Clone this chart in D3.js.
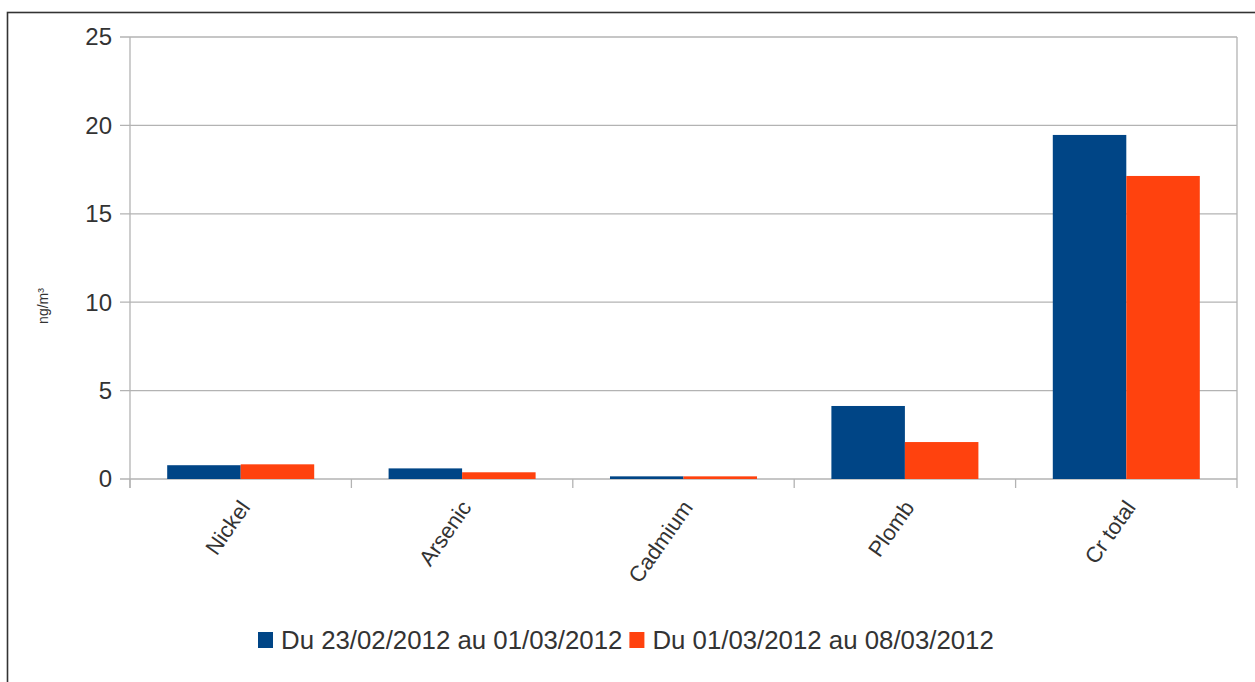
<!DOCTYPE html>
<html>
<head>
<meta charset="utf-8">
<script src="https://cdn.jsdelivr.net/npm/d3@7"></script>
<style>
  html, body { margin: 0; padding: 0; background: #fff; }
  svg { display: block; font-family: "Liberation Sans", Arial, sans-serif; }
</style>
</head>
<body>
<svg id="chart" width="1255" height="682"></svg>
<script>
// Metal concentrations (ng/m³) for two sampling weeks
const categories = ["Nickel", "Arsenic", "Cadmium", "Plomb", "Cr total"];
const seriesNames = ["Du 23/02/2012 au 01/03/2012", "Du 01/03/2012 au 08/03/2012"];
const week1 = [0.78, 0.6, 0.15, 4.13, 19.46];
const week2 = [0.83, 0.38, 0.15, 2.09, 17.14];
const yTicks = [0, 5, 10, 15, 20, 25];
const colors = ["#004586", "#ff420e"];

const svg = d3.select("#chart");
const plot = { left: 130, right: 1237, top: 37, bottom: 479 };

// outer frame
svg.append("rect")
  .attr("x", 7.5).attr("y", 12.5)
  .attr("width", 1270).attr("height", 700)
  .attr("fill", "none").attr("stroke", "#333").attr("stroke-width", 1.6);

const x = d3.scaleBand().domain(categories).range([plot.left, plot.right]).paddingInner(0).paddingOuter(0);
const xs = d3.scaleBand().domain([0, 1]).range([0, x.bandwidth()]).paddingInner(0).paddingOuter(0.506);
const y = d3.scaleLinear().domain([0, 25]).range([plot.bottom, plot.top]);

const gridColor = "#b3b3b3";

// horizontal grid lines with left tick stubs
svg.append("g").selectAll("line").data(yTicks).join("line")
  .attr("x1", plot.left - 10).attr("x2", plot.right)
  .attr("y1", d => y(d)).attr("y2", d => y(d))
  .attr("stroke", gridColor).attr("stroke-width", 1.3);

// y axis line and right wall edge
svg.append("line").attr("x1", plot.left).attr("x2", plot.left)
  .attr("y1", plot.top).attr("y2", plot.bottom + 9)
  .attr("stroke", gridColor).attr("stroke-width", 1.3);
svg.append("line").attr("x1", plot.right).attr("x2", plot.right)
  .attr("y1", plot.top).attr("y2", plot.bottom + 9)
  .attr("stroke", gridColor).attr("stroke-width", 1.3);

// x tick marks at category boundaries
const bounds = categories.map(c => x(c));
svg.append("g").selectAll("line").data(bounds).join("line")
  .attr("x1", d => d).attr("x2", d => d)
  .attr("y1", plot.bottom).attr("y2", plot.bottom + 9)
  .attr("stroke", gridColor).attr("stroke-width", 1.3);

// bars
const data = [week1, week2];
data.forEach((vals, si) => {
  svg.append("g").selectAll("rect").data(categories).join("rect")
    .attr("x", (c) => x(c) + xs(si))
    .attr("width", xs.bandwidth())
    .attr("y", (c, i) => y(vals[i]))
    .attr("height", (c, i) => y(0) - y(vals[i]))
    .attr("fill", colors[si]);
});

// y tick labels
svg.append("g").selectAll("text").data(yTicks).join("text")
  .attr("x", 112).attr("y", d => y(d))
  .attr("dy", "0.35em")
  .attr("text-anchor", "end")
  .attr("font-size", 24)
  .attr("fill", "#333")
  .text(d => d);

// rotated category labels
svg.append("g").selectAll("text").data(categories).join("text")
  .attr("transform", c => `translate(${x(c) + x.bandwidth() / 2 + 4},${plot.bottom + 24}) rotate(-55)`)
  .attr("text-anchor", "end")
  .attr("dy", "0.35em")
  .attr("font-size", 22)
  .attr("fill", "#333")
  .text(c => c);

// y axis title
svg.append("text")
  .attr("transform", "translate(48,306) rotate(-90)")
  .attr("text-anchor", "middle")
  .attr("font-size", 14)
  .attr("fill", "#333")
  .text("ng/m³");

// legend
const legend = svg.append("g").attr("font-size", 25.8).attr("fill", "#333");
let lx = 258;
seriesNames.forEach((name, i) => {
  legend.append("rect").attr("x", lx).attr("y", 632).attr("width", 15).attr("height", 16).attr("fill", colors[i]);
  const t = legend.append("text").attr("x", lx + 23).attr("y", 649).text(name);
  lx += 23 + t.node().getComputedTextLength() + 7;
});
</script>
</body>
</html>
